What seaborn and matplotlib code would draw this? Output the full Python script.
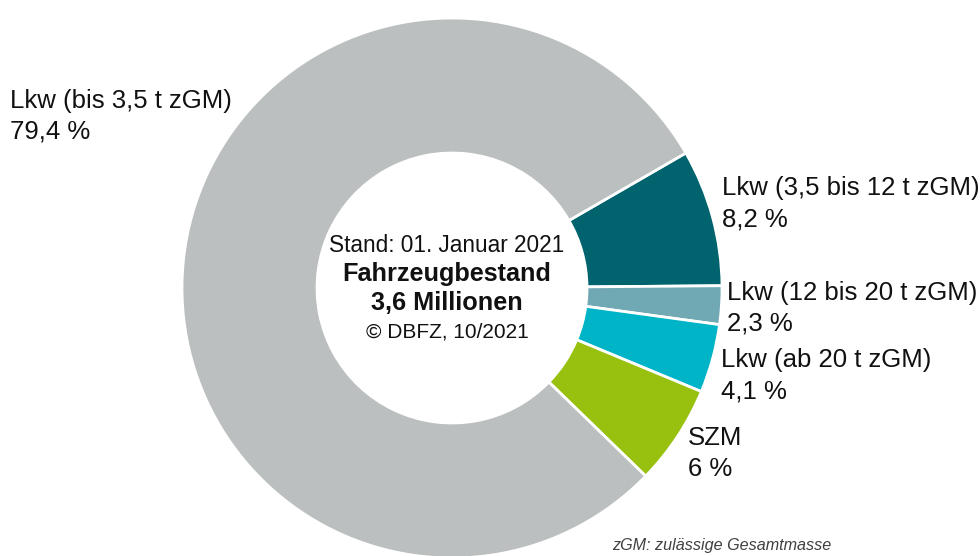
import matplotlib
matplotlib.use("Agg")
import matplotlib.pyplot as plt
import seaborn as sns

# Anteile am Fahrzeugbestand (im Uhrzeigersinn ab 30°)
kategorien = ['Lkw (3,5 bis 12 t zGM)', 'Lkw (12 bis 20 t zGM)', 'Lkw (ab 20 t zGM)',
              'SZM', 'Lkw (bis 3,5 t zGM)']
anteile = [8.2, 2.3, 4.1, 6.0, 79.4]
anteil_text = ['8,2 %', '2,3 %', '4,1 %', '6 %', '79,4 %']
farben = ['#00636E', '#70A8B3', '#00B4C7', '#97C00F', '#BCBFBF']

# Position der Beschriftungen in Pixeln (x links, y Grundlinie der ersten Zeile)
label_pos = [(722, 195), (727, 300), (721, 367), (688, 445), (10, 108)]

sns.set_theme(style="white")
plt.rcParams['font.family'] = ['Liberation Sans', 'DejaVu Sans']

W, H = 980, 556
fig = plt.figure(figsize=(W / 100, H / 100), dpi=100)
fig.patch.set_facecolor('white')

# Donut: Mitte (452, 288), Radius 270 px
cx, cy, r = 452, 288, 270
ax = fig.add_axes([(cx - r) / W, (H - cy - r) / H, 2 * r / W, 2 * r / H])
ax.pie(anteile, colors=farben, startangle=30, counterclock=False,
       radius=1, wedgeprops=dict(width=0.5, edgecolor='white', linewidth=2))
ax.set_xlim(-1, 1)
ax.set_ylim(-1, 1)
ax.set_aspect('equal')
ax.axis('off')

def px(x, y):
    return x / W, 1 - y / H

# Beschriftungen der Segmente
for name, txt, (x, y) in zip(kategorien, anteil_text, label_pos):
    fig.text(*px(x, y), name, fontsize=18.5, color='#111111', va='baseline', ha='left')
    fig.text(*px(x, y + 31), txt, fontsize=18.5, color='#111111', va='baseline', ha='left')

# Text in der Mitte
tx = 447
fig.text(*px(tx, 252), 'Stand: 01. Januar 2021', fontsize=16.3, ha='center', va='baseline', color='#111111')
fig.text(*px(tx, 281), 'Fahrzeugbestand', fontsize=18.2, fontweight='bold', ha='center', va='baseline', color='#111111')
fig.text(*px(tx, 310), '3,6 Millionen', fontsize=18.2, fontweight='bold', ha='center', va='baseline', color='#111111')
fig.text(*px(tx, 338), '\u00a9 DBFZ, 10/2021', fontsize=15, ha='center', va='baseline', color='#111111')

# Fußnote
fig.text(*px(612, 550), 'zGM: zulässige Gesamtmasse', fontsize=11.6, style='italic',
         ha='left', va='baseline', color='#404040')

fig.savefig('out.png', dpi=100, facecolor='white')
